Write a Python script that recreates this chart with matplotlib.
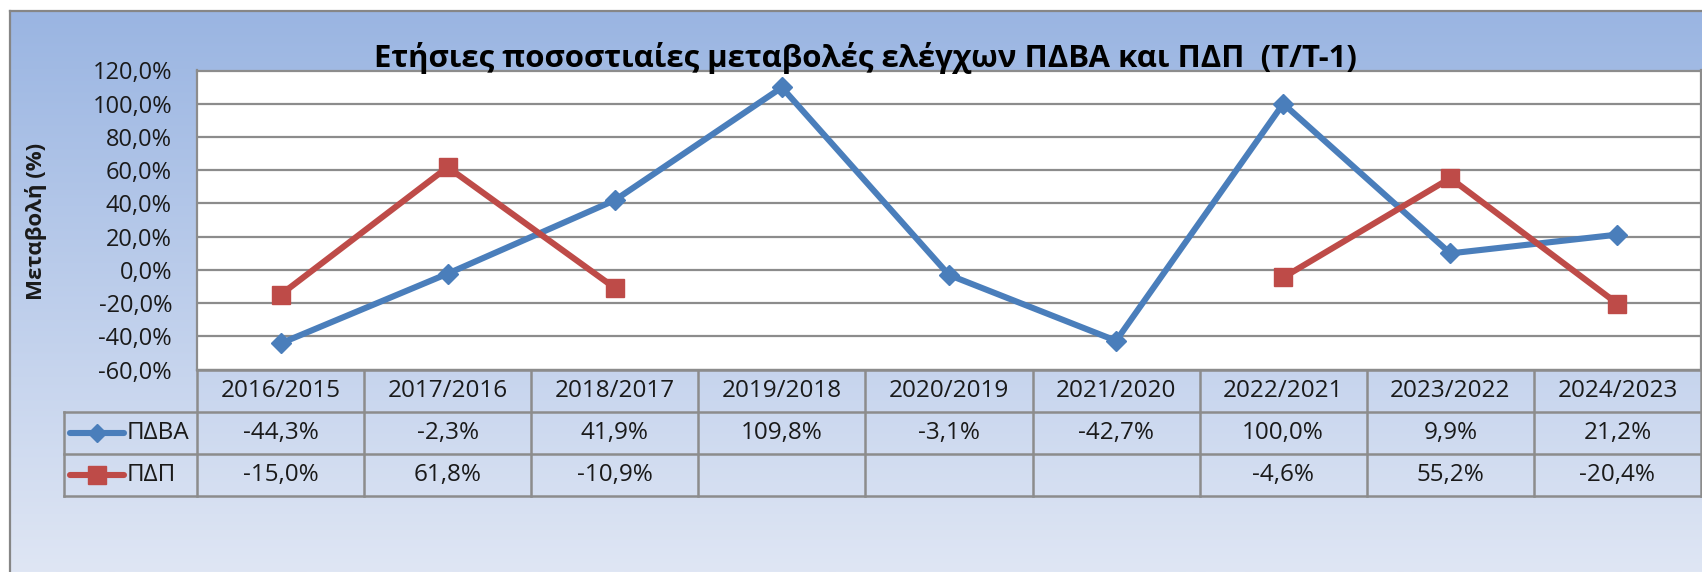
import numpy as np
import matplotlib
matplotlib.use("Agg")
import matplotlib.pyplot as plt
from matplotlib.ticker import FuncFormatter, MultipleLocator

# ---------------- data ----------------
categories = ["2016/2015", "2017/2016", "2018/2017", "2019/2018", "2020/2019",
              "2021/2020", "2022/2021", "2023/2022", "2024/2023"]
pdba_values = [-44.3, -2.3, 41.9, 109.8, -3.1, -42.7, 100.0, 9.9, 21.2]
pdp_values = [-15.0, 61.8, -10.9, None, None, None, -4.6, 55.2, -20.4]
series_names = ["ΠΔΒΑ", "ΠΔΠ"]
title_text = "Ετήσιες ποσοστιαίες μεταβολές ελέγχων ΠΔΒΑ και ΠΔΠ  (Τ/Τ-1)"
ylabel_text = "Μεταβολή (%)"
y_min, y_max, y_step = -60, 120, 20

plt.rcParams['font.family'] = ['Open Sans', 'DejaVu Sans']

W, H = 1702, 572
DPI = 100
fig = plt.figure(figsize=(W / DPI, H / DPI), dpi=DPI)
fig.patch.set_facecolor("white")

def fx(px):
    return px / W

def fy(py):
    return 1 - py / H

BLUE = "#4A7EBB"
RED = "#BE4B48"
GRID = "#8C8C8C"
TXT = "#1a1a1a"

# ---------------- background chart area with gradient ----------------
bx0, by0 = 10, 11
bg = fig.add_axes([fx(bx0), 0, 1 - fx(bx0), fy(by0)], zorder=0)
top_c = np.array([0x9A, 0xB5, 0xE2]) / 255
bot_c = np.array([0xDF, 0xE6, 0xF4]) / 255
t = np.linspace(0, 1, 256)[:, None]
grad = (top_c[None, :] * (1 - t) + bot_c[None, :] * t)[:, None, :]
bg.imshow(grad, aspect="auto", extent=[0, 1, 0, 1], origin="upper")
bg.set_xlim(0, 1)
bg.set_ylim(0, 1)
bg.set_xticks([])
bg.set_yticks([])
for s in ["right", "bottom"]:
    bg.spines[s].set_visible(False)
for s in ["left", "top"]:
    bg.spines[s].set_color("#868686")
    bg.spines[s].set_linewidth(1.6)

# ---------------- main plot axes ----------------
px_left, px_right = 197, 1701
py_top, py_bot = 70.5, 369.5
ax = fig.add_axes([fx(px_left), fy(py_bot), fx(px_right - px_left), (py_bot - py_top) / H], zorder=2)
ax.set_facecolor("white")
x = np.arange(len(categories))
n = len(categories)
ax.set_xlim(-0.5, n - 0.5)
ax.set_ylim(y_min, y_max)
ax.yaxis.set_major_locator(MultipleLocator(y_step))
ax.yaxis.set_major_formatter(FuncFormatter(lambda v, p: f"{v:.1f}".replace(".", ",") + "%"))
ax.grid(axis="y", color=GRID, linewidth=1.6)
ax.set_axisbelow(True)
ax.set_xticks([])
ax.tick_params(axis="y", length=0, pad=18, labelsize=17, labelcolor=TXT)
for s in ax.spines.values():
    s.set_color(GRID)
    s.set_linewidth(1.6)

pdba_arr = np.array(pdba_values, dtype=float)
pdp_arr = np.array([np.nan if v is None else v for v in pdp_values], dtype=float)

LW = 4.4
ax.plot(x, pdba_arr, color=BLUE, linewidth=LW, marker="D", markersize=10.5,
        markerfacecolor=BLUE, markeredgecolor=BLUE, zorder=3, clip_on=False)
ax.plot(x, pdp_arr, color=RED, linewidth=LW, marker="s", markersize=12.5,
        markerfacecolor=RED, markeredgecolor=RED, zorder=3, clip_on=False)

# title
fig.text(fx(865), fy(67), title_text, ha="center", va="baseline",
         fontsize=22.4, fontweight="bold", color="black", zorder=5)
# y label
fig.text(fx(36), fy(221), ylabel_text, ha="center", va="center", rotation=90,
         fontsize=16, fontweight="bold", color=TXT, zorder=5)

# ---------------- data table ----------------
tab_left_px, tab_top_px, tab_bot_px = 64, 370, 496
unit = (px_right - px_left) / n
leg_w = (px_left - tab_left_px) / unit
tax = fig.add_axes([fx(tab_left_px), fy(tab_bot_px), fx(px_right - tab_left_px),
                    (tab_bot_px - tab_top_px) / H], zorder=1)
tax.set_xlim(-0.5 - leg_w, n - 0.5)
tax.set_ylim(0, 3)
tax.axis("off")
tax.patch.set_alpha(0)

lc = dict(color=GRID, linewidth=1.8, solid_capstyle="projecting")
L0 = -0.5 - leg_w
R0 = n - 0.5
tax.plot([-0.5, R0], [3, 3], clip_on=False, **lc)
for yy in [2, 1, 0]:
    tax.plot([L0, R0], [yy, yy], clip_on=False, **lc)
for xx in np.arange(-0.5, n, 1.0):
    tax.plot([xx, xx], [0, 3], clip_on=False, **lc)
tax.plot([L0, L0], [0, 2], clip_on=False, **lc)

fs = 17.5
for i, cat in enumerate(categories):
    tax.text(i, 2.5, cat, ha="center", va="center", fontsize=fs, color=TXT)

def fmt(v):
    return "" if v is None else f"{v:.1f}".replace(".", ",") + "%"

for i, v in enumerate(pdba_values):
    tax.text(i, 1.5, fmt(v), ha="center", va="center", fontsize=fs, color=TXT)
for i, v in enumerate(pdp_values):
    tax.text(i, 0.5, fmt(v), ha="center", va="center", fontsize=fs, color=TXT)

def px2u(px):
    return (px - px_left) / unit - 0.5

key_x0, key_x1, key_text = px2u(70), px2u(124), px2u(127)
for row_y, col, mk, ms, name in [(1.5, BLUE, "D", 9.5, series_names[0]),
                                 (0.5, RED, "s", 12.5, series_names[1])]:
    tax.plot([key_x0, key_x1], [row_y, row_y], color=col, linewidth=LW,
             solid_capstyle="round", clip_on=False)
    tax.plot([(key_x0 + key_x1) / 2], [row_y], marker=mk, markersize=ms,
             color=col, clip_on=False)
    tax.text(key_text, row_y, name, ha="left", va="center", fontsize=fs, color=TXT)

fig.savefig("out.png", dpi=DPI)
